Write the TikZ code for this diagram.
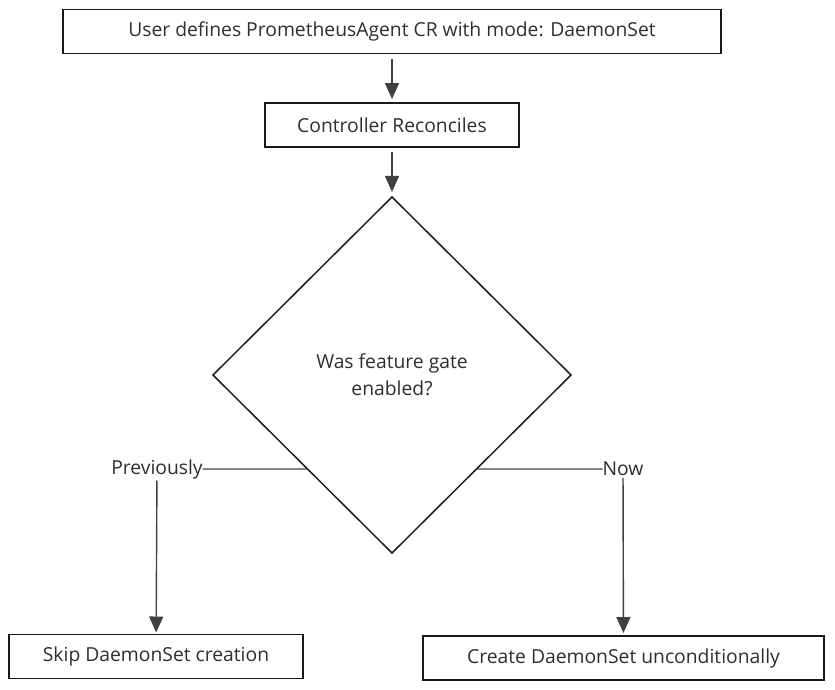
\documentclass[tikz,border=0pt]{standalone}
\usepackage{fontspec}
\setmainfont{Open Sans}
\usetikzlibrary{shapes.geometric,arrows.meta,calc}

\tikzset{
  every node/.style={font=\fontsize{19.3}{27}\selectfont,text=black!82}
}
\tikzset{flow box/.style={draw=black!90,line width=1.9pt,minimum height=44pt,inner sep=0pt,outer sep=0pt}}

\begin{document}
\begin{tikzpicture}[x=1pt,y=-1pt]
  \tikzset{decision/.style={draw=black!88,diamond,line width=1.5pt,minimum width=358pt,minimum height=356pt,inner sep=0pt,outer sep=0pt,align=center},
           flow arrow/.style={draw=black!75,line width=1.4pt,-{Triangle[length=16pt,width=14pt]}},
           flow line/.style={draw=black!75,line width=1.4pt},
           branch label/.style={inner sep=0pt,outer sep=0pt}}
  \useasboundingbox (0,0) rectangle (835,689);

  \node [flow box, minimum width=658pt] (user)   at (392,31.5)  {User defines PrometheusAgent CR with mode: DaemonSet};
  \node [flow box, minimum width=254pt] (ctrl)   at (392,125)   {Controller Reconciles};
  \node [decision]                      (gate)   at (392,375)   {Was feature gate\\enabled?};
  \node [branch label]                  (prev)   at (157,469)   {Previously};
  \node [branch label]                  (now)    at (623,469)   {Now};
  \node [flow box, minimum width=294pt] (skip)   at (156,656.5) {Skip DaemonSet creation};
  \node [flow box, minimum width=401pt] (create) at (623.5,658) {Create DaemonSet unconditionally};

  \coordinate (gate left)  at ($(gate.west)!0.528!(gate.south)$);
  \coordinate (gate right) at ($(gate.east)!0.528!(gate.south)$);

  \draw [flow arrow, shorten <=5pt, shorten >=4pt] (user) -- (ctrl);
  \draw [flow arrow, shorten <=5pt, shorten >=5pt] (ctrl) -- (gate);
  \draw [flow line]  (gate left)  -- (prev);
  \draw [flow line]  (gate right) -- (now);
  \draw [flow arrow, shorten <=2pt, shorten >=2pt] (prev) -- (skip);
  \draw [flow arrow, shorten <=2pt, shorten >=3pt] (now)  -- (create);

\end{tikzpicture}
\end{document}
